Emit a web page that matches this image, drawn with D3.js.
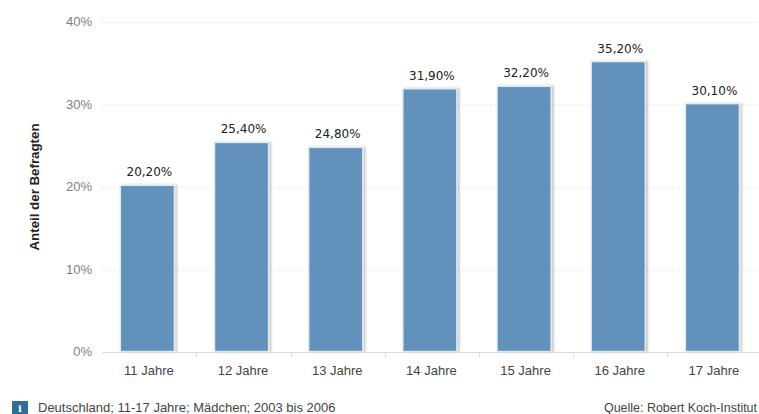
<!DOCTYPE html>
<html lang="de">
<head>
<meta charset="utf-8">
<script src="https://cdn.jsdelivr.net/npm/d3@7"></script>
<style>
html, body { margin: 0; padding: 0; background: #fff; }
svg { display: block; }
</style>
</head>
<body>
<svg id="chart" width="759" height="414"></svg>
<script>
// Survey shares per age group, in percent
const categories = ["11 Jahre", "12 Jahre", "13 Jahre", "14 Jahre", "15 Jahre", "16 Jahre", "17 Jahre"];
const shares = [20.2, 25.4, 24.8, 31.9, 32.2, 35.2, 30.1];
const valueTicks = [0, 10, 20, 30, 40];
const axisTitle = "Anteil der Befragten";
const noteText = "Deutschland; 11-17 Jahre; Mädchen; 2003 bis 2006";
const sourceText = "Quelle: Robert Koch-Institut";

const svg = d3.select("#chart");
const sans = "'Liberation Sans', Arial, sans-serif";
const plot = { left: 102.3, right: 761.5, top: 22, bottom: 352 };

const x = d3.scaleBand().domain(categories).range([plot.left, plot.right]).padding(0);
const y = d3.scaleLinear().domain([0, 40]).range([plot.bottom, plot.top]);
const barWidth = 54;
const barLeft = d => x(d) + x.bandwidth() / 2 - barWidth / 2 - 2;

// Soft shadow behind the bars
const defs = svg.append("defs");
const shadow = defs.append("filter").attr("id", "barShadow")
  .attr("x", "-20%").attr("y", "-10%").attr("width", "140%").attr("height", "120%");
shadow.append("feDropShadow")
  .attr("dx", 2).attr("dy", 0).attr("stdDeviation", 1)
  .attr("flood-color", "#000").attr("flood-opacity", 0.22);

// Dotted horizontal grid
svg.append("g").selectAll("line").data(valueTicks.filter(v => v > 0)).join("line")
  .attr("x1", plot.left).attr("x2", 759)
  .attr("y1", d => y(d) + 0.5).attr("y2", d => y(d) + 0.5)
  .attr("stroke", "#e3e6e8").attr("stroke-dasharray", "2 2");

// Value axis labels
svg.append("g").selectAll("text").data(valueTicks).join("text")
  .attr("x", 92).attr("y", d => y(d) + 4)
  .attr("text-anchor", "end")
  .attr("font-family", sans).attr("font-size", 13).attr("fill", "#808080")
  .text(d => d + "%");

// Bars
svg.append("g").selectAll("rect").data(categories).join("rect")
  .attr("x", barLeft)
  .attr("width", barWidth)
  .attr("y", (d, i) => y(shares[i]))
  .attr("height", (d, i) => plot.bottom - y(shares[i]) - 0.5)
  .attr("fill", "#6292bb")
  .attr("stroke", "#dfe9ee").attr("stroke-width", 1.4)
  .attr("filter", "url(#barShadow)");

// Value labels above the bars
svg.append("g").selectAll("text").data(categories).join("text")
  .attr("x", d => barLeft(d) + barWidth / 2 + 2)
  .attr("y", (d, i) => y(shares[i]) - 9)
  .attr("text-anchor", "middle")
  .attr("font-family", "'DejaVu Sans', Verdana, sans-serif").attr("font-size", 12).attr("fill", "#222")
  .text((d, i) => shares[i].toFixed(2).replace(".", ",") + "%");

// Category axis
const baseline = svg.append("g").attr("stroke", "#d2dce2");
baseline.append("line")
  .attr("x1", plot.left).attr("x2", 759)
  .attr("y1", plot.bottom + 0.5).attr("y2", plot.bottom + 0.5);
baseline.selectAll("line.tick").data(categories.slice(1)).join("line")
  .attr("class", "tick")
  .attr("x1", d => Math.round(x(d)) + 0.5).attr("x2", d => Math.round(x(d)) + 0.5)
  .attr("y1", plot.bottom).attr("y2", plot.bottom + 5);

svg.append("g").selectAll("text").data(categories).join("text")
  .attr("x", d => x(d) + x.bandwidth() / 2 - 0.5)
  .attr("y", 375)
  .attr("text-anchor", "middle")
  .attr("font-family", sans).attr("font-size", 13).attr("fill", "#444")
  .text(d => d);

// Rotated axis title
svg.append("text")
  .attr("transform", "translate(39,187) rotate(-90)")
  .attr("text-anchor", "middle")
  .attr("font-family", sans).attr("font-size", 13).attr("font-weight", "bold")
  .attr("fill", "#222").attr("textLength", 127).attr("lengthAdjust", "spacingAndGlyphs")
  .text(axisTitle);

// Footer: info badge, note and source
svg.append("rect").attr("x", 12).attr("y", 401).attr("width", 16).attr("height", 13).attr("fill", "#2f6d9f");
svg.append("text").attr("x", 20).attr("y", 412).attr("text-anchor", "middle")
  .attr("font-family", "'DejaVu Serif', serif").attr("font-size", 10).attr("font-weight", "bold")
  .attr("fill", "#fff").text("i");
svg.append("text").attr("x", 38).attr("y", 412)
  .attr("font-family", sans).attr("font-size", 13).attr("fill", "#444").text(noteText);
// Source line is fitted to stay inside the right edge
svg.append("text").attr("x", 604).attr("y", 412)
  .attr("font-family", sans).attr("font-size", 12.6).attr("fill", "#444")
  .attr("textLength", 153).attr("lengthAdjust", "spacingAndGlyphs").text(sourceText);
</script>
</body>
</html>
